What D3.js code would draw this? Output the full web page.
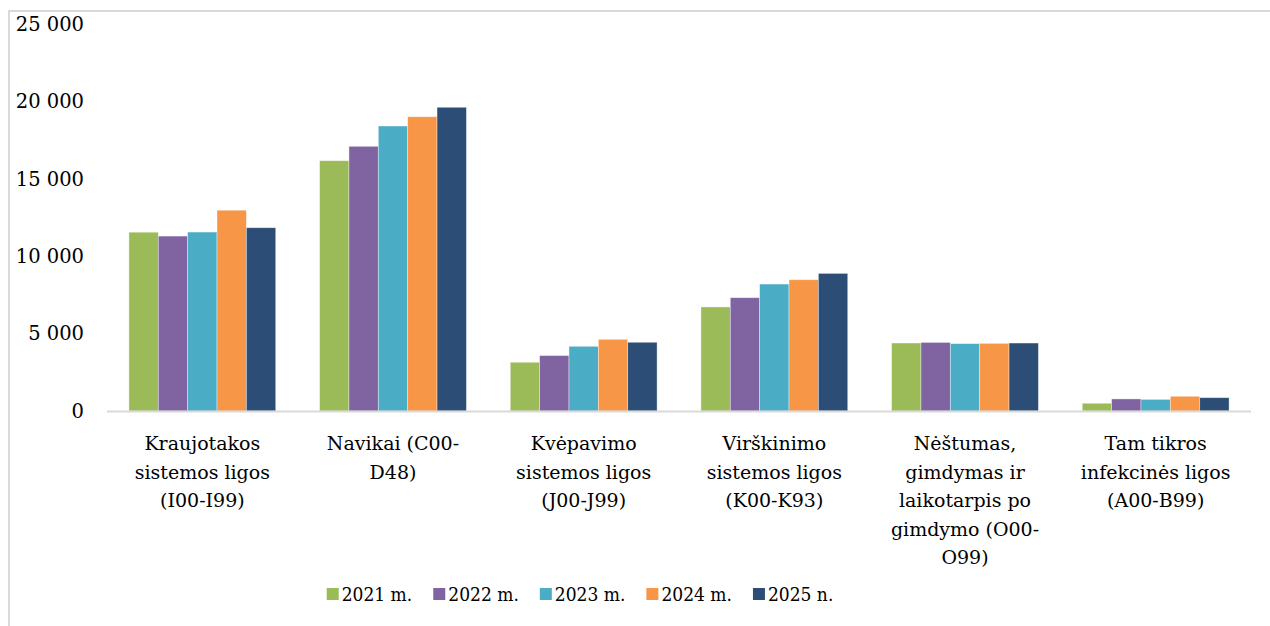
<!DOCTYPE html>
<html>
<head>
<meta charset="utf-8">
<script src="https://cdn.jsdelivr.net/npm/d3@7"></script>
<style>
  body { margin: 0; background: #fff; }
  svg { display: block; font-family: "DejaVu Serif", serif; }
  .legend text { font-family: "DejaVu Serif Condensed", "DejaVu Serif", serif; font-stretch: condensed; }
</style>
</head>
<body>
<svg id="chart"></svg>
<script>
// Categories (label lines as in the picture)
const categories = [
  ["Kraujotakos", "sistemos ligos", "(I00-I99)"],
  ["Navikai (C00-", "D48)"],
  ["Kvėpavimo", "sistemos ligos", "(J00-J99)"],
  ["Virškinimo", "sistemos ligos", "(K00-K93)"],
  ["Nėštumas,", "gimdymas ir", "laikotarpis po", "gimdymo (O00-", "O99)"],
  ["Tam tikros", "infekcinės ligos", "(A00-B99)"]
];
const seriesNames = ["2021 m.", "2022 m.", "2023 m.", "2024 m.", "2025 n."];
const seriesColors = ["#9BBB59", "#8064A2", "#4BACC6", "#F79646", "#2C4D75"];

// values per series, one per category
const v2021 = [11550, 16170, 3150, 6720, 4390, 500];
const v2022 = [11300, 17100, 3580, 7320, 4430, 780];
const v2023 = [11560, 18410, 4180, 8200, 4350, 750];
const v2024 = [12970, 19010, 4630, 8480, 4370, 950];
const v2025 = [11840, 19620, 4440, 8890, 4390, 860];
const seriesValues = [v2021, v2022, v2023, v2024, v2025];

const yTicks = [0, 5000, 10000, 15000, 20000, 25000];

const width = 1270;
const height = 626;
const svg = d3.select("#chart").attr("width", width).attr("height", height);

// outer frame (runs off the right and bottom)
svg.append("rect")
  .attr("x", 9).attr("y", 11)
  .attr("width", width + 20).attr("height", height + 20)
  .attr("fill", "none")
  .attr("stroke", "#d9d9d9")
  .attr("stroke-width", 2);

const plot = { left: 107, right: 1251, top: 24, bottom: 411 };

const x0 = d3.scaleBand()
  .domain(d3.range(categories.length))
  .range([plot.left, plot.right])
  .paddingInner(0.23)
  .paddingOuter(0.115);

const x1 = d3.scaleBand()
  .domain(d3.range(seriesNames.length))
  .range([0, x0.bandwidth()]);

const y = d3.scaleLinear().domain([0, 25000]).range([plot.bottom, plot.top]);

// y axis labels
const fmt = (d) => d3.format(",")(d).replace(/,/g, " ");
svg.append("g")
  .selectAll("text")
  .data(yTicks)
  .enter()
  .append("text")
  .attr("x", 84)
  .attr("y", (d) => y(d))
  .attr("dy", "0.35em")
  .attr("text-anchor", "end")
  .attr("font-size", 19.5)
  .attr("fill", "#000")
  .text(fmt);

// bars
const groups = svg.append("g")
  .selectAll("g")
  .data(categories.map((c, i) => i))
  .enter()
  .append("g")
  .attr("transform", (i) => `translate(${x0(i)},0)`);

groups.selectAll("rect")
  .data((i) => seriesValues.map((s, k) => ({ k: k, value: s[i] })))
  .enter()
  .append("rect")
  .attr("x", (d) => x1(d.k))
  .attr("y", (d) => y(d.value))
  .attr("width", x1.bandwidth())
  .attr("height", (d) => y(0) - y(d.value))
  .attr("fill", (d) => seriesColors[d.k])
  .attr("stroke", "#fff")
  .attr("stroke-opacity", 0.5)
  .attr("stroke-width", 0.75);

// baseline
svg.append("line")
  .attr("x1", plot.left).attr("x2", plot.right)
  .attr("y1", y(0) + 0.5).attr("y2", y(0) + 0.5)
  .attr("stroke", "#d9d9d9")
  .attr("stroke-width", 2);

// category labels
const catLabels = svg.append("g")
  .selectAll("text")
  .data(categories)
  .enter()
  .append("text")
  .attr("text-anchor", "middle")
  .attr("font-size", 19)
  .attr("fill", "#000")
  .attr("transform", (d, i) => `translate(${x0(i) + x0.bandwidth() / 2},450)`);

catLabels.selectAll("tspan")
  .data((d) => d)
  .enter()
  .append("tspan")
  .attr("x", 0)
  .attr("y", (d, j) => j * 28.5)
  .text((d) => d);

// legend
const legend = svg.append("g").attr("class", "legend");
const items = legend.selectAll("g")
  .data(seriesNames)
  .enter()
  .append("g");

items.append("rect")
  .attr("width", 12).attr("height", 12)
  .attr("y", -6)
  .attr("fill", (d, i) => seriesColors[i]);

items.append("text")
  .attr("x", 15)
  .attr("dy", "0.35em")
  .attr("font-size", 19)
  .attr("fill", "#000")
  .text((d) => d);

let pos = 0;
const offsets = [];
items.each(function () {
  const w = d3.select(this).select("text").node().getComputedTextLength();
  offsets.push(pos);
  pos += 15 + w + 21;
});
const legendWidth = pos - 21;
const legendStart = 580 - legendWidth / 2;
items.attr("transform", (d, i) => `translate(${legendStart + offsets[i]},594)`);
</script>
</body>
</html>
